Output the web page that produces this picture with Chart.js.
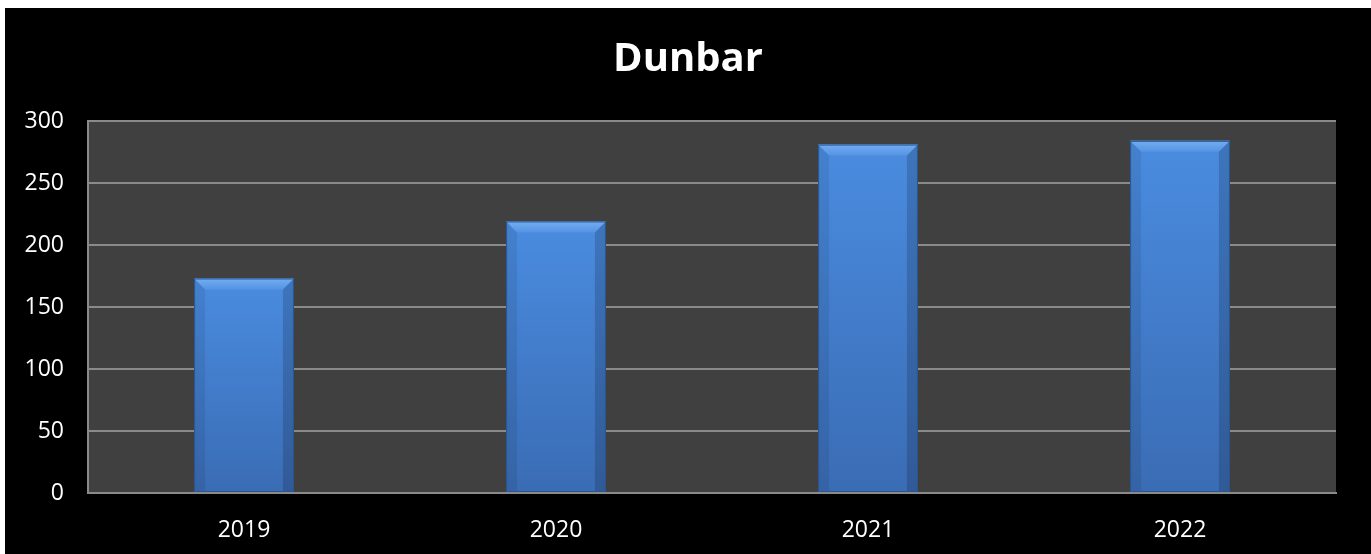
<!DOCTYPE html>
<html lang="en">
<head>
<meta charset="UTF-8">
<title>Dunbar</title>
<script src="https://cdn.jsdelivr.net/npm/chart.js"></script>
<style>
  html, body { margin: 0; padding: 0; background: #fff; }
  #wrap { position: absolute; left: 5px; top: 8px; width: 1366px; height: 546px; background: #000; }
</style>
</head>
<body>
<div id="wrap"><canvas id="chart"></canvas></div>
<script>
const years = ['2019', '2020', '2021', '2022'];
const counts = [173, 219, 281, 284];
const yMax = 300;
const yStep = 50;

// grey plot area behind the bars
const plotBg = {
  id: 'plotBg',
  beforeDraw(chart) {
    const { ctx, chartArea: a } = chart;
    ctx.save();
    ctx.fillStyle = '#404040';
    ctx.fillRect(a.left, a.top, a.right - a.left, a.bottom - a.top);
    ctx.restore();
  }
};

// bevelled look of the bars, drawn from each bar element
const bevel = {
  id: 'bevel',
  afterDatasetsDraw(chart) {
    const ctx = chart.ctx;
    chart.getDatasetMeta(0).data.forEach(bar => {
      const p = bar.getProps(['x', 'y', 'base', 'width'], true);
      const l = p.x - p.width / 2, r = p.x + p.width / 2, t = p.y, b = p.base;
      const e = 11;
      ctx.save();
      const g = ctx.createLinearGradient(0, t, 0, b);
      g.addColorStop(0, '#4a8ce0');
      g.addColorStop(1, '#3a6cb4');
      ctx.fillStyle = g;
      ctx.fillRect(l, t, r - l, b - t);
      // top highlight
      const h = ctx.createLinearGradient(0, t, 0, t + e);
      h.addColorStop(0, 'rgba(150,200,255,0.55)');
      h.addColorStop(1, 'rgba(150,200,255,0.15)');
      ctx.fillStyle = h;
      ctx.beginPath();
      ctx.moveTo(l, t); ctx.lineTo(r, t); ctx.lineTo(r - e, t + e); ctx.lineTo(l + e, t + e);
      ctx.closePath(); ctx.fill();
      // sides
      ctx.fillStyle = 'rgba(0,0,0,0.08)';
      ctx.beginPath();
      ctx.moveTo(l, t); ctx.lineTo(l + e, t + e); ctx.lineTo(l + e, b); ctx.lineTo(l, b);
      ctx.closePath(); ctx.fill();
      ctx.fillStyle = 'rgba(0,0,0,0.16)';
      ctx.beginPath();
      ctx.moveTo(r, t); ctx.lineTo(r - e, t + e); ctx.lineTo(r - e, b); ctx.lineTo(r, b);
      ctx.closePath(); ctx.fill();
      // outline
      ctx.strokeStyle = '#2a558f';
      ctx.lineWidth = 1;
      ctx.strokeRect(l + 0.5, t + 0.5, r - l - 1, b - t - 1);
      ctx.restore();
    });
  }
};

new Chart(document.getElementById('chart'), {
  type: 'bar',
  data: {
    labels: years,
    datasets: [{
      data: counts,
      backgroundColor: '#3f7fd0',
      borderWidth: 0,
      categoryPercentage: 1,
      barPercentage: 0.32
    }]
  },
  plugins: [plotBg, bevel],
  options: {
    responsive: true,
    maintainAspectRatio: false,
    animation: false,
    layout: { padding: 0 },
    plugins: {
      legend: { display: false },
      tooltip: { enabled: false },
      title: {
        display: true,
        text: 'Dunbar',
        color: '#fff',
        font: { family: 'Open Sans', size: 40, weight: 'bold' },
        padding: { top: 28, bottom: 37 }
      }
    },
    scales: {
      x: {
        grid: { display: false, drawTicks: false },
        border: { display: true, color: '#8a8a8a', width: 2 },
        ticks: { color: '#fff', font: { family: 'Open Sans', size: 23 }, padding: 24 },
        afterFit(s) { s.height = 61; }
      },
      y: {
        min: 0,
        max: yMax,
        grid: { color: '#8a8a8a', lineWidth: 2, drawTicks: false },
        border: { display: true, color: '#8a8a8a', width: 2 },
        ticks: { stepSize: yStep, color: '#fff', font: { family: 'Open Sans', size: 23 }, padding: 24 },
        afterFit(s) { s.width = 83; }
      },
      // empty right margin so the title stays centred on the whole chart
      yPad: {
        type: 'linear',
        position: 'right',
        grid: { display: false, drawTicks: false },
        border: { display: false },
        ticks: { display: false },
        afterFit(s) { s.width = 35; }
      }
    }
  }
});
</script>
</body>
</html>
